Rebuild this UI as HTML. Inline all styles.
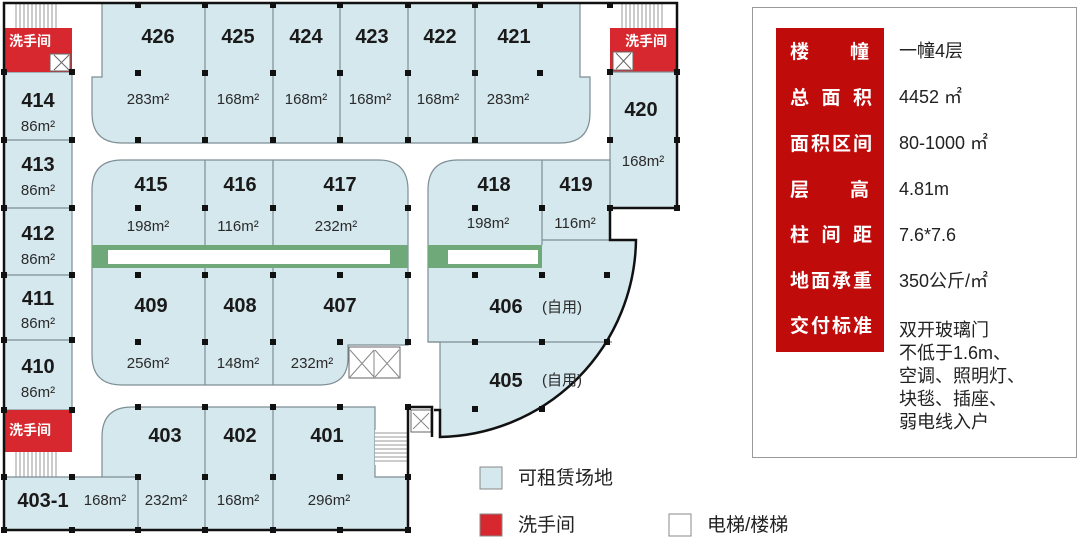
<!DOCTYPE html>
<html><head><meta charset="utf-8"><style>
html,body{margin:0;padding:0;background:#fff;width:1080px;height:538px;overflow:hidden}
svg{display:block}
text{font-family:"Liberation Sans","Noto Sans CJK SC",sans-serif}
.n{font-size:20px;font-weight:bold;fill:#1a1a1a;text-anchor:middle}
.a{font-size:15px;fill:#2a2a2a;text-anchor:middle}
.r{fill:#d5e8ee;stroke:#7d8e94;stroke-width:1.2}
.w{fill:#d7282f}
.wt{font-size:14px;font-weight:bold;fill:#fff}
.k{fill:#111}
.lab{font-size:19px;font-weight:bold;fill:#fff;font-family:"Noto Sans CJK SC",sans-serif}
.val{font-size:18px;fill:#222}
</style></head><body>
<svg width="1080" height="538" viewBox="0 0 1080 538">
<path class="r" d="M102 3 H580 V77 H590 V113 Q590 143 560 143 H122 Q92 143 92 113 V77 H102 Z"/>
<g stroke="#7d8e94" stroke-width="1.2"><line x1="205" y1="3" x2="205" y2="143"/><line x1="273" y1="3" x2="273" y2="143"/><line x1="340" y1="3" x2="340" y2="143"/><line x1="408" y1="3" x2="408" y2="143"/><line x1="475" y1="3" x2="475" y2="143"/></g>
<rect class="r" x="4" y="72" width="68" height="338"/>
<g stroke="#7d8e94" stroke-width="1.2"><line x1="4" y1="140" x2="72" y2="140"/><line x1="4" y1="208" x2="72" y2="208"/><line x1="4" y1="275" x2="72" y2="275"/><line x1="4" y1="340" x2="72" y2="340"/></g>
<rect x="4" y="3" width="68" height="25" fill="#fff"/>
<g stroke="#999" stroke-width="1"><path d="M16 4V28M20 4V28M24 4V28M28 4V28M32 4V28M36 4V28M40 4V28M44 4V28M48 4V28M52 4V28M56 4V28"/></g>
<rect class="w" x="4" y="28" width="68" height="44"/>
<text class="wt" x="9" y="46">洗手间</text>
<rect x="50" y="54" width="20" height="17" fill="#fff" stroke="#666"/><path d="M54 55 L69 70 M69 55 L54 70" stroke="#666"/>
<rect class="w" x="4" y="410" width="68" height="42"/>
<text class="wt" x="9" y="435">洗手间</text>
<rect x="4" y="452" width="68" height="25" fill="#fff"/>
<g stroke="#999" stroke-width="1"><path d="M16 452V477M20 452V477M24 452V477M28 452V477M32 452V477M36 452V477M40 452V477M44 452V477M48 452V477M52 452V477M56 452V477"/></g>
<rect x="610" y="3" width="67" height="25" fill="#fff"/>
<g stroke="#999" stroke-width="1"><path d="M622 4V28M626 4V28M630 4V28M634 4V28M638 4V28M642 4V28M646 4V28M650 4V28M654 4V28M658 4V28M662 4V28"/></g>
<rect class="w" x="610" y="28" width="67" height="44"/>
<text class="wt" x="625" y="46">洗手间</text>
<rect x="613" y="52" width="20" height="18" fill="#fff" stroke="#666"/><path d="M616 53 L631 69 M631 53 L616 69" stroke="#666"/>
<rect class="r" x="610" y="72" width="67" height="136"/>
<path class="r" d="M92 190 Q92 160 122 160 H378 Q408 160 408 190 V345 H348 V358 Q348 385 320 385 H122 Q92 385 92 355 Z"/>
<rect x="92" y="245" width="316" height="23" fill="#6fa97a"/>
<rect x="108" y="250" width="282" height="14" fill="#fff"/>
<g stroke="#7d8e94" stroke-width="1.2"><line x1="205" y1="160" x2="205" y2="245"/><line x1="273" y1="160" x2="273" y2="245"/><line x1="205" y1="268" x2="205" y2="385"/><line x1="273" y1="268" x2="273" y2="385"/></g>
<rect x="349" y="347" width="51" height="31" fill="#fff" stroke="#666"/>
<path d="M350 350 L374 377 M374 350 L350 377 M375 350 L399 377 M399 350 L375 377 M374 350V378" stroke="#888"/>
<path class="r" d="M428 190 Q428 160 458 160 H610 V240 H636 A200 200 0 0 1 440 437 V342 H428 Z"/>
<rect x="428" y="245" width="114" height="23" fill="#6fa97a"/>
<rect x="448" y="250" width="90" height="14" fill="#fff"/>
<g stroke="#7d8e94" stroke-width="1.2"><line x1="542" y1="160" x2="542" y2="245"/><line x1="542" y1="240" x2="610" y2="240"/><line x1="428" y1="342" x2="612" y2="342"/></g>
<path d="M610 208 V240 H636 A200 200 0 0 1 440 437 V410 H434" fill="none" stroke="#111" stroke-width="2.5"/>
<rect x="411" y="410" width="20" height="22" fill="#fff" stroke="#666"/><path d="M413 413 L429 429 M429 413 L413 429" stroke="#888"/>
<path class="r" d="M132 407 H375 V477 H408 V530 H4 V477 H102 V437 Q102 407 132 407 Z"/>
<g stroke="#7d8e94" stroke-width="1.2"><line x1="205" y1="407" x2="205" y2="530"/><line x1="273" y1="407" x2="273" y2="530"/><line x1="138" y1="477" x2="138" y2="530"/><line x1="102" y1="477" x2="138" y2="477"/></g>
<rect x="375" y="430" width="33" height="35" fill="#fff"/>
<g stroke="#999"><path d="M375 433H408M375 437H408M375 441H408M375 445H408M375 449H408M375 453H408M375 457H408M375 461H408"/></g>
<g fill="none" stroke="#111" stroke-width="2.5">
<path d="M4 530 V3 H677 V208 H610"/>
<path d="M4 530 H408 V407 H432 V437"/>
</g>
<g class="k">
<rect x="135" y="70" width="6" height="6"/><rect x="202" y="70" width="6" height="6"/><rect x="270" y="70" width="6" height="6"/><rect x="337" y="70" width="6" height="6"/><rect x="405" y="70" width="6" height="6"/><rect x="472" y="70" width="6" height="6"/><rect x="537" y="70" width="6" height="6"/>
<rect x="135" y="137" width="6" height="6"/><rect x="202" y="137" width="6" height="6"/><rect x="270" y="137" width="6" height="6"/><rect x="337" y="137" width="6" height="6"/><rect x="405" y="137" width="6" height="6"/><rect x="472" y="137" width="6" height="6"/>
<rect x="135" y="2" width="6" height="6"/><rect x="202" y="2" width="6" height="6"/><rect x="270" y="2" width="6" height="6"/><rect x="337" y="2" width="6" height="6"/><rect x="405" y="2" width="6" height="6"/><rect x="472" y="2" width="6" height="6"/><rect x="537" y="2" width="6" height="6"/><rect x="607" y="2" width="6" height="6"/>
<rect x="1" y="69" width="6" height="6"/><rect x="69" y="69" width="6" height="6"/><rect x="1" y="137" width="6" height="6"/><rect x="69" y="137" width="6" height="6"/><rect x="1" y="205" width="6" height="6"/><rect x="69" y="205" width="6" height="6"/><rect x="1" y="272" width="6" height="6"/><rect x="69" y="272" width="6" height="6"/><rect x="1" y="337" width="6" height="6"/><rect x="69" y="337" width="6" height="6"/><rect x="1" y="407" width="6" height="6"/><rect x="69" y="407" width="6" height="6"/><rect x="1" y="474" width="6" height="6"/><rect x="69" y="474" width="6" height="6"/><rect x="1" y="527" width="6" height="6"/><rect x="69" y="527" width="6" height="6"/>
<rect x="607" y="69" width="6" height="6"/><rect x="674" y="69" width="6" height="6"/><rect x="607" y="137" width="6" height="6"/><rect x="674" y="137" width="6" height="6"/><rect x="607" y="205" width="6" height="6"/><rect x="674" y="205" width="6" height="6"/>
<rect x="135" y="205" width="6" height="6"/><rect x="202" y="205" width="6" height="6"/><rect x="270" y="205" width="6" height="6"/><rect x="337" y="205" width="6" height="6"/><rect x="405" y="205" width="6" height="6"/>
<rect x="135" y="272" width="6" height="6"/><rect x="202" y="272" width="6" height="6"/><rect x="270" y="272" width="6" height="6"/><rect x="337" y="272" width="6" height="6"/><rect x="405" y="272" width="6" height="6"/>
<rect x="135" y="339" width="6" height="6"/><rect x="202" y="339" width="6" height="6"/><rect x="270" y="339" width="6" height="6"/><rect x="337" y="339" width="6" height="6"/><rect x="405" y="339" width="6" height="6"/>
<rect x="472" y="205" width="6" height="6"/><rect x="539" y="205" width="6" height="6"/><rect x="472" y="272" width="6" height="6"/><rect x="539" y="272" width="6" height="6"/><rect x="604" y="272" width="6" height="6"/>
<rect x="472" y="339" width="6" height="6"/><rect x="539" y="339" width="6" height="6"/><rect x="604" y="339" width="6" height="6"/><rect x="472" y="406" width="6" height="6"/><rect x="539" y="406" width="6" height="6"/>
<rect x="135" y="404" width="6" height="6"/><rect x="202" y="404" width="6" height="6"/><rect x="270" y="404" width="6" height="6"/><rect x="337" y="404" width="6" height="6"/><rect x="405" y="404" width="6" height="6"/>
<rect x="135" y="474" width="6" height="6"/><rect x="202" y="474" width="6" height="6"/><rect x="270" y="474" width="6" height="6"/><rect x="337" y="474" width="6" height="6"/><rect x="405" y="474" width="6" height="6"/>
<rect x="135" y="527" width="6" height="6"/><rect x="202" y="527" width="6" height="6"/><rect x="270" y="527" width="6" height="6"/><rect x="337" y="527" width="6" height="6"/><rect x="405" y="527" width="6" height="6"/>
</g>
<text class="n" x="158" y="43">426</text><text class="n" x="238" y="43">425</text><text class="n" x="306" y="43">424</text><text class="n" x="372" y="43">423</text><text class="n" x="440" y="43">422</text><text class="n" x="514" y="43">421</text>
<text class="a" x="148" y="104">283m²</text><text class="a" x="238" y="104">168m²</text><text class="a" x="306" y="104">168m²</text><text class="a" x="370" y="104">168m²</text><text class="a" x="438" y="104">168m²</text><text class="a" x="508" y="104">283m²</text>
<text class="n" x="38" y="107">414</text><text class="a" x="38" y="131">86m²</text>
<text class="n" x="38" y="171">413</text><text class="a" x="38" y="195">86m²</text>
<text class="n" x="38" y="240">412</text><text class="a" x="38" y="264">86m²</text>
<text class="n" x="38" y="305">411</text><text class="a" x="38" y="328">86m²</text>
<text class="n" x="38" y="373">410</text><text class="a" x="38" y="397">86m²</text>
<text class="n" x="641" y="116">420</text><text class="a" x="643" y="166">168m²</text>
<text class="n" x="151" y="191">415</text><text class="n" x="240" y="191">416</text><text class="n" x="340" y="191">417</text>
<text class="a" x="148" y="231">198m²</text><text class="a" x="238" y="231">116m²</text><text class="a" x="336" y="231">232m²</text>
<text class="n" x="151" y="312">409</text><text class="n" x="240" y="312">408</text><text class="n" x="340" y="312">407</text>
<text class="a" x="148" y="368">256m²</text><text class="a" x="238" y="368">148m²</text><text class="a" x="312" y="368">232m²</text>
<text class="n" x="494" y="191">418</text><text class="n" x="576" y="191">419</text>
<text class="a" x="488" y="228">198m²</text><text class="a" x="575" y="228">116m²</text>
<text class="n" x="506" y="313">406</text><text class="a" x="562" y="312">(自用)</text>
<text class="n" x="506" y="387">405</text><text class="a" x="562" y="385">(自用)</text>
<text class="n" x="165" y="442">403</text><text class="n" x="240" y="442">402</text><text class="n" x="327" y="442">401</text>
<text class="n" x="43" y="507">403-1</text><text class="a" x="105" y="505">168m²</text><text class="a" x="166" y="505">232m²</text><text class="a" x="238" y="505">168m²</text><text class="a" x="329" y="505">296m²</text>
<rect x="480" y="467" width="22" height="22" fill="#d5e8ee" stroke="#888"/>
<text x="518" y="484" font-size="19" fill="#222">可租赁场地</text>
<rect x="480" y="514" width="22" height="22" fill="#d7282f" stroke="#888"/>
<text x="518" y="531" font-size="19" fill="#222">洗手间</text>
<rect x="669" y="514" width="22" height="22" fill="#fff" stroke="#888"/>
<text x="707" y="531" font-size="19" fill="#222">电梯/楼梯</text>
<rect x="752.5" y="7.5" width="324" height="450" fill="#fff" stroke="#999"/>
<rect x="776" y="28" width="108" height="324" fill="#c00b0b"/>
<text class="lab" x="790" y="58">楼</text><text class="lab" x="850" y="58">幢</text>
<text class="lab" x="790" y="104" textLength="82">总 面 积</text>
<text class="lab" x="790" y="150" textLength="82">面积区间</text>
<text class="lab" x="790" y="196">层</text><text class="lab" x="850" y="196">高</text>
<text class="lab" x="790" y="241" textLength="82">柱 间 距</text>
<text class="lab" x="790" y="287" textLength="82">地面承重</text>
<text class="lab" x="790" y="332" textLength="82">交付标准</text>
<text class="val" x="899" y="57">一幢4层</text>
<text class="val" x="899" y="103">4452 ㎡</text>
<text class="val" x="899" y="149">80-1000 ㎡</text>
<text class="val" x="899" y="195">4.81m</text>
<text class="val" x="899" y="241">7.6*7.6</text>
<text class="val" x="899" y="287">350公斤/㎡</text>
<text class="val" x="899" y="336">双开玻璃门</text>
<text class="val" x="899" y="359">不低于1.6m、</text>
<text class="val" x="899" y="382">空调、照明灯、</text>
<text class="val" x="899" y="405">块毯、插座、</text>
<text class="val" x="899" y="428">弱电线入户</text>
</svg>
</body></html>
